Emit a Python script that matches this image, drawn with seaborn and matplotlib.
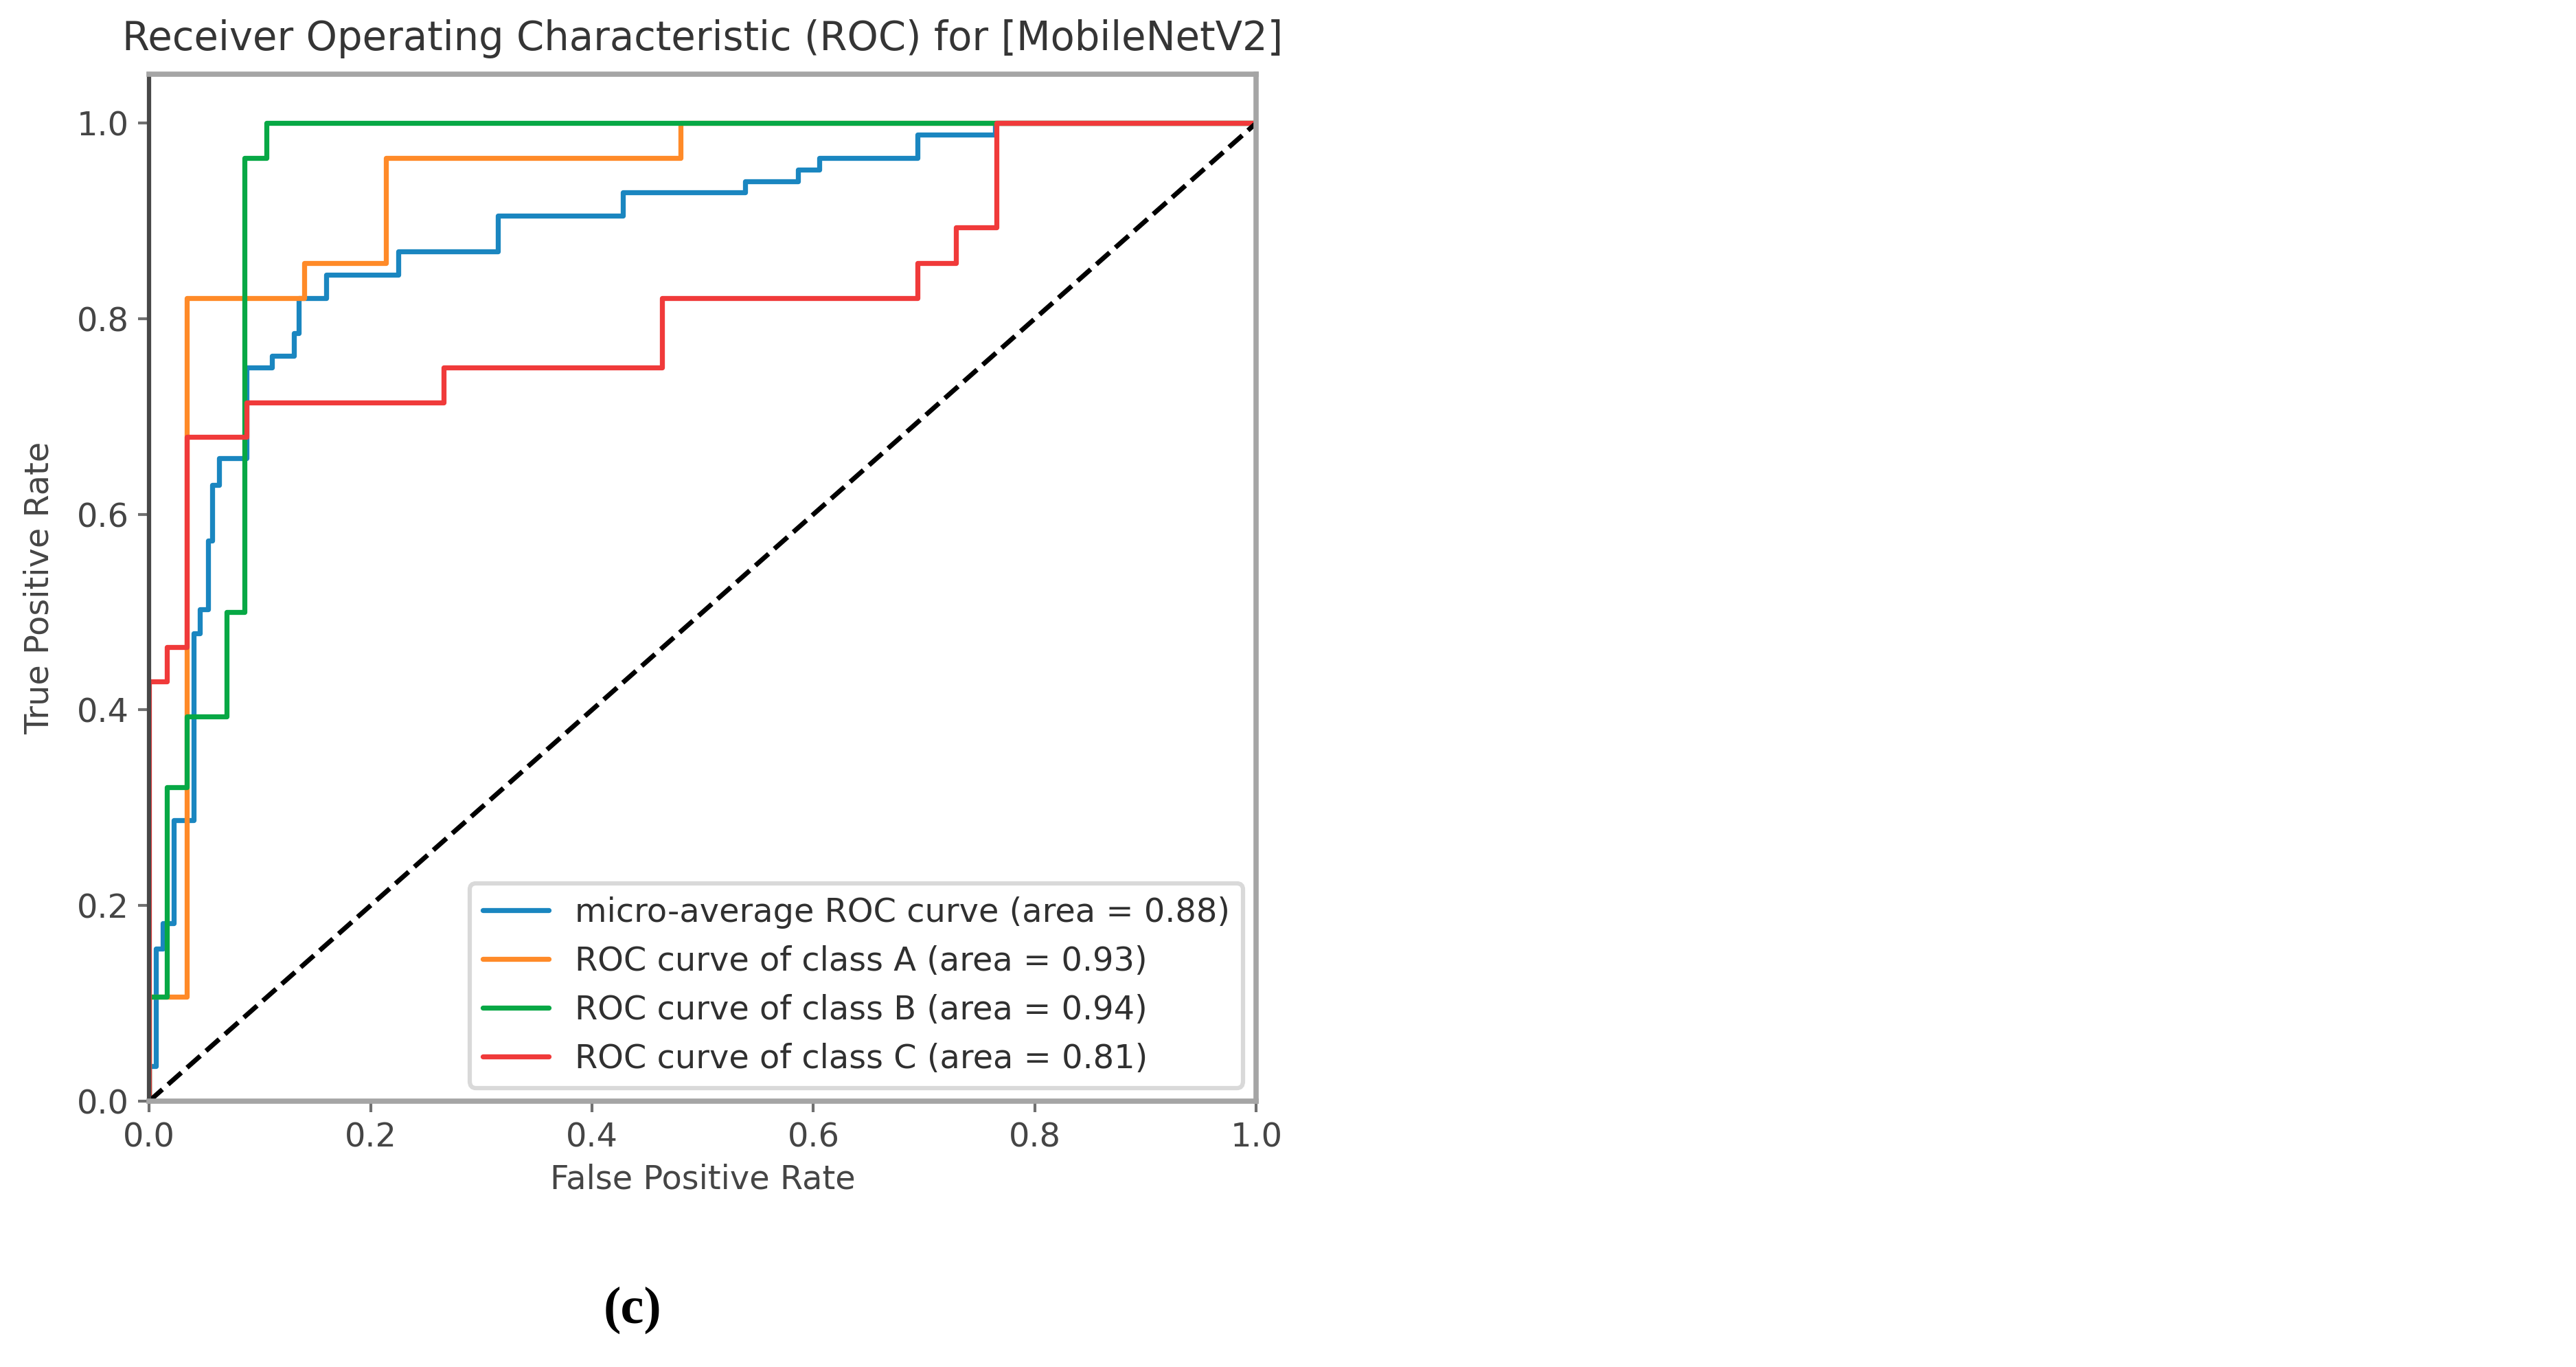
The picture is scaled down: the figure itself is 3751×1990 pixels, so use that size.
import matplotlib
matplotlib.use('Agg')
import matplotlib.pyplot as plt
import seaborn as sns

# ---------------------- 数据（从图中读取的ROC顶点） ----------------------
micro_fpr = [0, 0, .006, .006, .012, .012, .022, .022, .040, .040, .046, .046, .053, .053,
             .057, .057, .063, .063, .088, .088, .111, .111, .131, .131, .135, .135, .160, .160,
             .225, .225, .315, .315, .428, .428, .538, .538, .586, .586, .605, .605, .694, .694,
             .764, .764, 1.0]
micro_tpr = [0, .036, .036, .156, .156, .182, .182, .287, .287, .478, .478, .503, .503, .573,
             .573, .630, .630, .657, .657, .750, .750, .762, .762, .785, .785, .821, .821, .845,
             .845, .869, .869, .905, .905, .929, .929, .940, .940, .952, .952, .964, .964, .988,
             .988, 1.0, 1.0]

a_fpr = [0, 0, .034, .034, .140, .140, .214, .214, .480, .480, 1.0]
a_tpr = [0, .107, .107, .821, .821, .857, .857, .964, .964, 1.0, 1.0]

b_fpr = [0, 0, .016, .016, .034, .034, .070, .070, .086, .086, .106, .106, 1.0]
b_tpr = [0, .107, .107, .321, .321, .393, .393, .500, .500, .964, .964, 1.0, 1.0]

c_fpr = [0, 0, .016, .016, .034, .034, .088, .088, .266, .266, .463, .463, .694, .694,
         .729, .729, .765, .765, 1.0]
c_tpr = [0, .429, .429, .464, .464, .679, .679, .714, .714, .750, .750, .821, .821, .857,
         .857, .893, .893, 1.0, 1.0]

diag = [0.0, 1.0]

labels = ['micro-average ROC curve (area = 0.88)',
          'ROC curve of class A (area = 0.93)',
          'ROC curve of class B (area = 0.94)',
          'ROC curve of class C (area = 0.81)']
colors = ['#1a86c0', '#ff8a28', '#07a845', '#f03a3a']

# ---------------------- 风格 ----------------------
sns.set_theme(style='ticks')
plt.rcParams['font.family'] = ['DejaVu Sans']

fig = plt.figure(figsize=(15.004, 7.96), dpi=250)
ax = fig.add_axes([0.0579, 0.1945, 0.4298, 0.7513])

curves = [(micro_fpr, micro_tpr), (a_fpr, a_tpr), (b_fpr, b_tpr), (c_fpr, c_tpr)]
for (fx, ty), lab, col in zip(curves, labels, colors):
    sns.lineplot(x=fx, y=ty, sort=False, estimator=None, color=col, lw=2.1, label=lab, ax=ax)

sns.lineplot(x=diag, y=diag, sort=False, estimator=None, color='black', lw=2,
             linestyle='--', ax=ax)

ax.set_xlim(0.0, 1.0)
ax.set_ylim(0.0, 1.05)
ax.set_xticks([0.0, 0.2, 0.4, 0.6, 0.8, 1.0])
ax.set_yticks([0.0, 0.2, 0.4, 0.6, 0.8, 1.0])
ax.tick_params(direction='out', length=4.5, width=1.2, color='#707070',
               labelsize=13.8, labelcolor='#454545', pad=4)
for sp in ax.spines.values():
    sp.set_color('#a5a5a5')
    sp.set_linewidth(2.2)
ax.spines['left'].set_color('#484848')
ax.spines['left'].set_linewidth(1.8)

ax.set_xlabel('False Positive Rate', fontsize=13.8, color='#454545', labelpad=4)
ax.set_ylabel('True Positive Rate', fontsize=13.8, color='#454545', labelpad=9)
ax.set_title('Receiver Operating Characteristic (ROC) for [MobileNetV2]',
             fontsize=16.6, color='#353535', pad=10)

leg = ax.legend(loc='lower right', fontsize=13.8, frameon=True, fancybox=True,
                framealpha=0.8, edgecolor='#d0d0d0', borderaxespad=0.4)
for t in leg.get_texts():
    t.set_color('#303030')
leg.get_frame().set_linewidth(1.8)

fig.text(0.2455, 0.0417, '(c)', family=['Liberation Serif', 'DejaVu Serif'],
         weight='bold', fontsize=22, ha='center', va='center', color='black')

fig.savefig('out.png', dpi=250, facecolor='white')
